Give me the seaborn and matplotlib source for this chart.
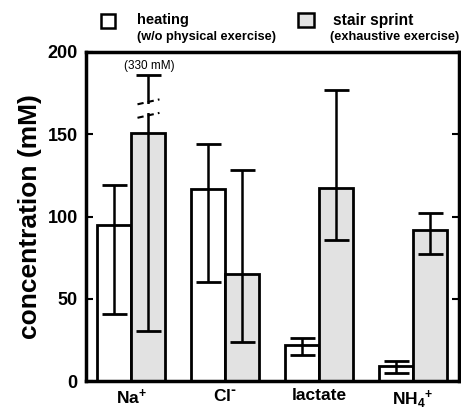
import matplotlib
matplotlib.use("Agg")
import matplotlib.pyplot as plt
import seaborn as sns
import pandas as pd
import numpy as np
from matplotlib.patches import Rectangle

# ---- data ----
ions = [r"Na$^{+}$", r"Cl$^{\text{-}}$", "lactate", r"NH$_{4}$$^{+}$"]
conditions = ["heating", "stair sprint"]
heating_mean = [95, 117, 22, 9]
heating_low = [41, 60, 16, 5]
heating_high = [119, 144, 26, 12]
sprint_mean = [151, 65, 117.5, 92]
sprint_low = [30.5, 24, 86, 77]
sprint_high = [186, 128, 177, 102]   # Na+ top drawn at broken axis (actual 330 mM)
yticks = [0, 50, 100, 150, 200]

sns.set_theme(style="white")
plt.rcParams["font.family"] = ["Liberation Sans", "DejaVu Sans"]
plt.rcParams["font.weight"] = "bold"
plt.rcParams["mathtext.default"] = "regular"
plt.rcParams["text.color"] = "black"
plt.rcParams["axes.labelcolor"] = "black"
plt.rcParams["xtick.color"] = "black"
plt.rcParams["ytick.color"] = "black"

df = pd.DataFrame({
    "ion": ions * 2,
    "condition": [conditions[0]] * 4 + [conditions[1]] * 4,
    "value": heating_mean + sprint_mean,
})

fig = plt.figure(figsize=(4.61, 4.09), dpi=100)
ax = fig.add_axes([86 / 461, (409 - 381) / 409, (459 - 86) / 461, (381 - 52) / 409])

sns.barplot(data=df, x="ion", y="value", hue="condition", order=ions,
            hue_order=conditions, palette=["white", "#e2e2e2"],
            edgecolor="black", linewidth=2.0, width=0.72, errorbar=None,
            legend=False, ax=ax, saturation=1)

# error bars
patches = ax.patches
lows = heating_low + sprint_low
highs = heating_high + sprint_high
means = heating_mean + sprint_mean
for p, lo, hi, m in zip(patches, lows, highs, means):
    xc = p.get_x() + p.get_width() / 2
    ax.errorbar([xc], [m], yerr=[[m - lo], [hi - m]], fmt="none",
                ecolor="black", elinewidth=1.8, capsize=9, capthick=2.0, zorder=4)

# broken error bar for Na+ stair sprint
p = patches[4]
xc = p.get_x() + p.get_width() / 2
ax.plot([xc, xc], [163, 168.5], color="white", lw=4, zorder=5, solid_capstyle="butt")
for yb in (161.5, 169.7):
    ax.plot([xc - 0.112, xc + 0.122], [yb - 1.5, yb + 1.5], color="black",
            lw=1.5, ls=(0, (3, 2)), zorder=6)
ax.text(xc + 0.01, 191.5, "(330 mM)", ha="center", va="center", fontsize=8.5,
        fontweight="normal")

ax.set_xlim(-0.48, 3.49)
ax.set_ylim(0, 200)
ax.set_yticks(yticks)
ax.set_xlabel("")
ax.set_ylabel("concentration (mM)", fontsize=19, fontweight="bold", labelpad=4)
ax.tick_params(axis="y", direction="in", length=5, width=1.5, left=True,
               right=True, labelsize=13, pad=6)
ax.tick_params(axis="x", length=0, labelsize=12.5, pad=5)
for lab in ax.get_xticklabels() + ax.get_yticklabels():
    lab.set_fontweight("bold")
for s in ax.spines.values():
    s.set_visible(True)
    s.set_color("black")
    s.set_linewidth(2.5)

# legend (custom, above plot)
W, H = 461, 409
def box(x0, y0, x1, y1, fc):
    fig.patches.append(Rectangle((x0 / W, 1 - y1 / H), (x1 - x0) / W, (y1 - y0) / H,
                                 transform=fig.transFigure, facecolor=fc,
                                 edgecolor="black", linewidth=1.8))
box(101, 14, 115, 28, "white")
box(298, 13, 314, 27, "#e2e2e2")
fig.text(137 / W, 1 - 20 / H, "heating", fontsize=10.5, fontweight="bold", va="center")
fig.text(137 / W, 1 - 37 / H, "(w/o physical exercise)", fontsize=9.2,
         fontweight="bold", va="center")
fig.text(333 / W, 1 - 20 / H, "stair sprint", fontsize=11.2, fontweight="bold", va="center")
fig.text(330 / W, 1 - 37 / H, "(exhaustive exercise)", fontsize=9.2,
         fontweight="bold", va="center")

fig.savefig("out.png", dpi=100)
